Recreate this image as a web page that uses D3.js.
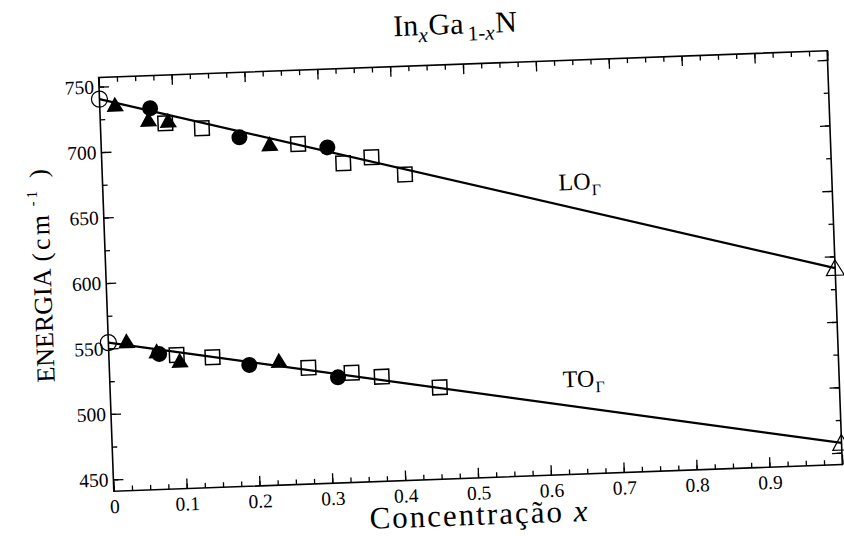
<!DOCTYPE html>
<html>
<head>
<meta charset="utf-8">
<script src="https://cdn.jsdelivr.net/npm/d3@7"></script>
<style>
  body { margin: 0; background: #fff; }
  svg { display: block; }
  text { font-family: "Liberation Serif", "Times New Roman", serif; fill: #000; }
</style>
</head>
<body>
<svg id="chart" width="844" height="539"></svg>
<script>
// Fitted lines (x = 0: GaN, x = 1: InN)
const lineX = [0, 1];
const loLine = [740.5, 591.0];
const toLine = [554.5, 457.5];

// LO phonon data, by marker type
const loTriX  = [0.021, 0.066, 0.093, 0.231];
const loTriY  = [734.3, 721.9, 720.6, 699.9];
const loCircX = [0.069, 0.190, 0.310];
const loCircY = [732.1, 707.4, 697.3];
const loSqX   = [0.089, 0.139, 0.270, 0.331, 0.370, 0.415];
const loSqY   = [720.2, 715.4, 700.7, 684.7, 688.5, 674.5];

// TO phonon data, by marker type
const toTriX  = [0.025, 0.066, 0.097, 0.233];
const toTriY  = [553.5, 545.0, 537.2, 534.4];
const toCircX = [0.069, 0.192, 0.313];
const toCircY = [544.4, 533.5, 521.6];
const toSqX   = [0.093, 0.142, 0.273, 0.332, 0.373, 0.452];
const toSqY   = [543.1, 540.4, 529.8, 524.7, 520.9, 511.1];

// Axis ticks
const xMajor = [0, 0.1, 0.2, 0.3, 0.4, 0.5, 0.6, 0.7, 0.8, 0.9, 1.0];
const xLabels = ["0", "0.1", "0.2", "0.3", "0.4", "0.5", "0.6", "0.7", "0.8", "0.9", ""];
const xMinor = d3.range(0, 1.0001, 0.025);
const yMajor = [450, 500, 550, 600, 650, 700, 750];
const yMinor = d3.range(450, 751, 25);

const SERIF = "'Liberation Serif', 'Times New Roman', serif";
const plotLeft = 106, plotRight = 835, plotTop = 64, plotBottom = 478;
const x = d3.scaleLinear().domain([0, 1]).range([plotLeft, plotRight]);
const y = d3.scaleLinear().domain([441, 757]).range([plotBottom, plotTop]);

const svg = d3.select("#chart");
const g = svg.append("g").attr("transform", "rotate(-2.1, 470.5, 271)");

// Axes with inward ticks on all four sides
function styleAxis(sel) {
  sel.attr("font-family", null).attr("font-size", null);
  sel.select(".domain").remove();
  sel.selectAll(".tick line").attr("stroke", "#000").attr("stroke-width", 1.3);
  sel.selectAll("text").style("font-family", SERIF).style("font-size", "19.5px");
}
const xFmt = d => xLabels[xMajor.indexOf(d)];

g.append("g").attr("transform", `translate(0,${plotBottom})`)
  .call(d3.axisBottom(x).tickValues(xMinor).tickSizeInner(-5).tickSizeOuter(0).tickFormat(""))
  .call(styleAxis);
g.append("g").attr("transform", `translate(0,${plotBottom})`)
  .call(d3.axisBottom(x).tickValues(xMajor).tickSizeInner(-10).tickSizeOuter(0).tickPadding(8).tickFormat(xFmt))
  .call(styleAxis);
g.append("g").attr("transform", `translate(0,${plotTop})`)
  .call(d3.axisTop(x).tickValues(xMinor).tickSizeInner(-5).tickSizeOuter(0).tickFormat(""))
  .call(styleAxis);
g.append("g").attr("transform", `translate(0,${plotTop})`)
  .call(d3.axisTop(x).tickValues(xMajor).tickSizeInner(-10).tickSizeOuter(0).tickFormat(""))
  .call(styleAxis);

g.append("g").attr("transform", `translate(${plotLeft},0)`)
  .call(d3.axisLeft(y).tickValues(yMinor).tickSizeInner(-5).tickSizeOuter(0).tickFormat(""))
  .call(styleAxis);
g.append("g").attr("transform", `translate(${plotLeft},0)`)
  .call(d3.axisLeft(y).tickValues(yMajor).tickSizeInner(-10).tickSizeOuter(0).tickPadding(5).tickFormat(d3.format("d")))
  .call(styleAxis);
g.append("g").attr("transform", `translate(${plotRight},0)`)
  .call(d3.axisRight(y).tickValues(yMinor).tickSizeInner(-5).tickSizeOuter(0).tickFormat(""))
  .call(styleAxis);
g.append("g").attr("transform", `translate(${plotRight},0)`)
  .call(d3.axisRight(y).tickValues(yMajor).tickSizeInner(-10).tickSizeOuter(0).tickFormat(""))
  .call(styleAxis);

// Frame
g.append("rect")
  .attr("x", plotLeft).attr("y", plotTop)
  .attr("width", plotRight - plotLeft).attr("height", plotBottom - plotTop)
  .attr("fill", "none").attr("stroke", "#000").attr("stroke-width", 1.6);

// Linear fits
const line = d3.line().x(d => x(d[0])).y(d => y(d[1]));
[loLine, toLine].forEach(vals => {
  g.append("path")
    .datum(lineX.map((v, i) => [v, vals[i]]))
    .attr("d", line)
    .attr("fill", "none").attr("stroke", "#000").attr("stroke-width", 2.2);
});

const zip = (xs, ys) => xs.map((v, i) => [v, ys[i]]);
const sq = d3.symbol().type(d3.symbolSquare).size(210);
const tri = d3.symbol().type(d3.symbolTriangle).size(130);

function squares(data) {
  g.append("g").selectAll("path").data(data).join("path")
    .attr("transform", d => `translate(${x(d[0])},${y(d[1])})`)
    .attr("d", sq).attr("fill", "none").attr("stroke", "#000").attr("stroke-width", 1.5);
}
function circles(data) {
  g.append("g").selectAll("circle").data(data).join("circle")
    .attr("cx", d => x(d[0])).attr("cy", d => y(d[1])).attr("r", 8).attr("fill", "#000");
}
function triangles(data) {
  g.append("g").selectAll("path").data(data).join("path")
    .attr("transform", d => `translate(${x(d[0])},${y(d[1])})`)
    .attr("d", tri).attr("fill", "#000");
}

squares(zip(loSqX, loSqY));
squares(zip(toSqX, toSqY));
circles(zip(loCircX, loCircY));
circles(zip(toCircX, toCircY));
triangles(zip(loTriX, loTriY));
triangles(zip(toTriX, toTriY));

// End members: GaN (open circle) and InN (open triangle)
[loLine, toLine].forEach(vals => {
  g.append("circle").attr("cx", x(lineX[0])).attr("cy", y(vals[0])).attr("r", 8)
    .attr("fill", "none").attr("stroke", "#000").attr("stroke-width", 1.2);
  g.append("path").attr("transform", `translate(${x(lineX[1])},${y(vals[1]) + 2})`)
    .attr("d", d3.symbol().type(d3.symbolTriangle).size(140))
    .attr("fill", "none").attr("stroke", "#000").attr("stroke-width", 1.2);
});

// Mode labels
function modeLabel(px, py, name) {
  const t = g.append("text").attr("x", x(px)).attr("y", y(py))
    .style("font-family", SERIF).style("font-size", "24px");
  t.append("tspan").text(name);
  t.append("tspan").attr("dx", 1).attr("dy", 6).style("font-size", "16px").text("Γ");
}
modeLabel(0.625, 658, "LO");
modeLabel(0.621, 507.5, "TO");

// Title
const title = g.append("text").attr("x", 464).attr("y", 33.5)
  .attr("text-anchor", "middle").style("font-family", SERIF).style("font-size", "30px");
title.append("tspan").text("In");
title.append("tspan").attr("dy", 7).style("font-size", "21px").style("font-style", "italic").text("x");
title.append("tspan").attr("dx", 1).attr("dy", -7).text("Ga");
title.append("tspan").attr("dx", 4).attr("dy", 7).style("font-size", "21px").text("1-");
title.append("tspan").style("font-size", "21px").style("font-style", "italic").text("x");
title.append("tspan").attr("dx", 1).attr("dy", -7).text("N");

// Axis titles
const xt = g.append("text").attr("x", (plotLeft + plotRight) / 2).attr("y", 525)
  .attr("text-anchor", "middle").style("font-family", SERIF).style("font-size", "31px")
  .style("letter-spacing", "2px");
xt.append("tspan").text("Concentração ");
xt.append("tspan").style("font-style", "italic").text("x");

const yt = g.append("text").attr("transform", "translate(51,367) rotate(-90)")
  .style("font-family", SERIF).style("font-size", "26px");
yt.append("tspan").text("ENERGIA");
yt.append("tspan").attr("dx", 7).style("letter-spacing", "3px").text("(cm");
yt.append("tspan").attr("dx", 6).attr("dy", -11).style("font-size", "15px").style("letter-spacing", "3px").text("-1");
yt.append("tspan").attr("dx", 10).attr("dy", 11).text(")");
</script>
</body>
</html>
